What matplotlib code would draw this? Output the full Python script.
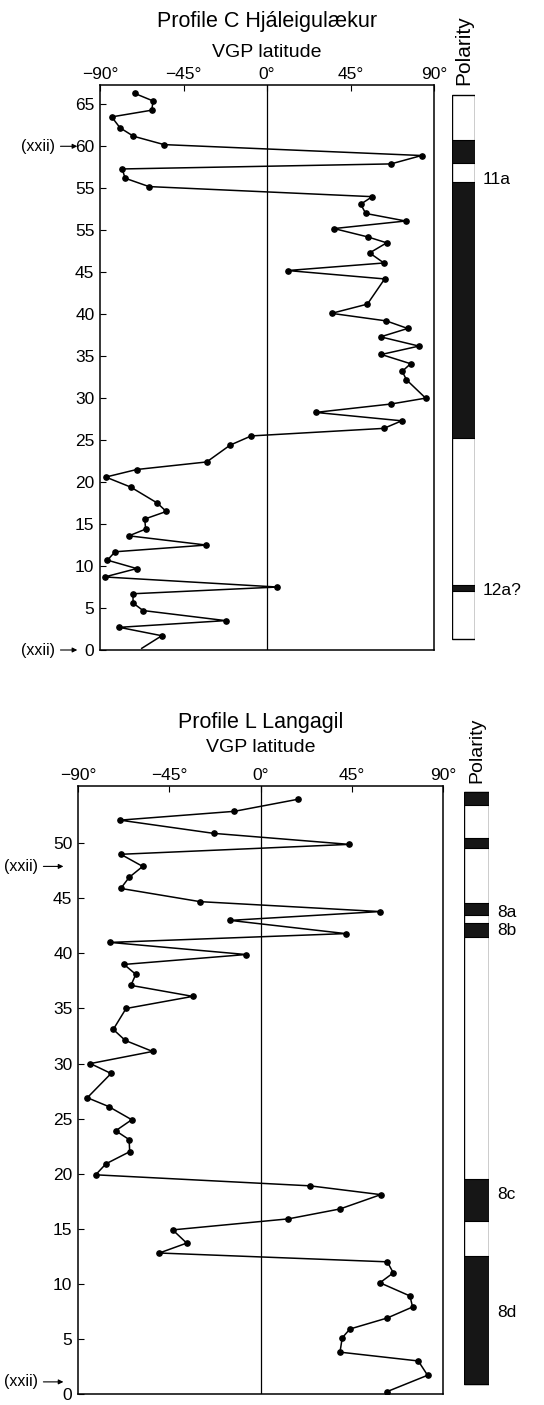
import matplotlib
matplotlib.use("Agg")
import matplotlib.pyplot as plt

plt.rcParams['font.family'] = ['Liberation Sans', 'DejaVu Sans']

# ---------------- Profile C Hjáleigulækur ----------------
c_title = "Profile C Hjáleigulækur"
c_lat = [-71.3, -61.4, -62.1, -83.7, -79.2, -72.0, -55.5, 83.3, 66.8, -78.0,
         -76.5, -63.6, 56.7, 50.5, 53.2, 74.7, 36.1, 54.4, 64.5, 55.3,
         63.0, 11.1, 63.4, 54.1, 34.8, 64.3, 75.8, 61.2, 81.9, 61.6,
         77.4, 72.9, 75.1, 85.5, 66.8, 26.2, 72.6, 63.0, -8.5, -19.9,
         -32.5, -70.2, -86.9, -73.4, -59.1, -54.3, -65.9, -65.4, -74.4, -32.7,
         -81.9, -86.0, -70.2, -87.5, 5.6, -72.2, -72.2, -66.8, -22.3, -79.6,
         -56.7, -67.5]
c_height = [66.3, 65.4, 64.3, 63.5, 62.2, 61.2, 60.2, 58.9, 57.9, 57.3,
            56.2, 55.2, 54.0, 53.1, 52.0, 51.1, 50.2, 49.2, 48.5, 47.3,
            46.1, 45.2, 44.2, 41.2, 40.1, 39.2, 38.3, 37.3, 36.2, 35.2,
            34.1, 33.2, 32.2, 30.0, 29.3, 28.3, 27.3, 26.4, 25.5, 24.4,
            22.4, 21.5, 20.6, 19.4, 17.5, 16.5, 15.6, 14.4, 13.6, 12.5,
            11.7, 10.7, 9.7, 8.7, 7.5, 6.7, 5.6, 4.7, 3.5, 2.7,
            1.7, 0.2]
c_yticks = [0, 5, 10, 15, 20, 25, 30, 35, 40, 45, 50, 55, 60, 65]
c_ylabels = ["0", "5", "10", "15", "20", "25", "30", "35", "40", "45",
             "55", "55", "60", "65"]
c_ylim = 67.3
c_column = (1.3, 66.1)                       # extent of polarity column
c_normal = [(58.0, 60.8), (25.2, 55.7), (7.0, 7.7)]  # black bands
c_chron_lab = ["11a", "12a?"]
c_chron_y = [56.0, 7.1]
c_xxii = [60, 0]

# ---------------- Profile L Langagil ----------------
l_title = "Profile L Langagil"
l_lat = [18.6, -12.9, -69.3, -23.1, 43.8, -68.9, -58.1, -64.8, -68.9, -29.8,
         58.9, -15.0, 42.0, -74.2, -7.1, -67.3, -61.5, -63.9, -33.4, -66.3,
         -72.6, -66.7, -53.2, -83.9, -73.7, -85.4, -74.9, -63.5, -71.4, -64.8,
         -64.5, -76.2, -81.3, 24.4, 59.3, 39.2, 13.7, -43.3, -36.4, -49.9,
         62.5, 65.5, 58.9, 73.7, 75.0, 62.5, 44.1, 40.3, 39.2, 77.8,
         82.4, 62.2]
l_height = [54.0, 52.9, 52.1, 50.9, 49.9, 49.0, 47.9, 46.9, 45.9, 44.7,
            43.8, 43.0, 41.8, 41.0, 39.9, 39.0, 38.1, 37.1, 36.1, 35.0,
            33.1, 32.1, 31.1, 30.0, 29.1, 26.9, 26.1, 24.9, 23.9, 23.1,
            22.0, 20.9, 19.9, 18.9, 18.1, 16.8, 15.9, 14.9, 13.7, 12.8,
            12.0, 11.0, 10.1, 8.9, 7.9, 6.9, 5.9, 5.1, 3.8, 3.0,
            1.7, 0.2]
l_yticks = [0, 5, 10, 15, 20, 25, 30, 35, 40, 45, 50]
l_ylabels = [str(v) for v in l_yticks]
l_ylim = 55.2
l_column = (0.9, 54.7)
l_normal = [(53.5, 54.7), (49.6, 50.5), (43.5, 44.6), (41.5, 42.8),
            (15.7, 19.5), (0.9, 12.5)]
l_chron_lab = ["8a", "8b", "8c", "8d"]
l_chron_y = [43.75, 42.1, 18.1, 7.4]
l_xxii = [47.9, 1.1]

xticks = [-90, -45, 0, 45, 90]
xlabels = ["\u221290\u00b0", "\u221245\u00b0", "0\u00b0", "45\u00b0", "90\u00b0"]

W, H = 544, 1405
fig = plt.figure(figsize=(W / 100, H / 100), dpi=100)


def px_axes(l, t, r, b):
    return fig.add_axes([l / W, 1 - b / H, (r - l) / W, (b - t) / H])


def panel(box, pbox, title, lat, height, yticks, ylabels, ylim, column,
          normal, chron_lab, chron_y, xxii, last_dot, title_dy, pol_dy,
          pol_size, arrow_x, text_x):
    ax = px_axes(*box)
    ax.set_xlim(-90, 90)
    ax.set_ylim(0, ylim)
    ax.axvline(0, color="black", lw=0.9)
    mark = None if last_dot else list(range(len(lat) - 1))
    ax.plot(lat, height, color="black", lw=1.1, marker="o", ms=3.8,
            markevery=mark)
    ax.xaxis.tick_top()
    ax.set_xticks(xticks)
    ax.set_xticklabels(xlabels, fontsize=12.5)
    ax.set_yticks(yticks)
    ax.set_yticklabels(ylabels, fontsize=12.5)
    ax.tick_params(axis="both", direction="in", length=4, width=0.8,
                   top=True, bottom=False)
    ax.tick_params(axis="x", pad=2)
    ax.tick_params(axis="y", pad=4)
    for s in ax.spines.values():
        s.set_linewidth(1.1)
    ax.text(0.5, 1 + title_dy[0], title, transform=ax.transAxes,
            ha="center", va="center", fontsize=15.5)
    ax.text(0.5, 1 + title_dy[1], "VGP latitude", transform=ax.transAxes,
            ha="center", va="center", fontsize=14)
    for y in xxii:
        ax.annotate("(xxii)", xy=(arrow_x, y),
                    xycoords=ax.get_yaxis_transform(),
                    xytext=(text_x, y), textcoords=ax.get_yaxis_transform(),
                    ha="right", va="center", fontsize=11.5,
                    arrowprops=dict(arrowstyle="-|>", lw=0.8, color="black",
                                    mutation_scale=7, shrinkA=2, shrinkB=0))

    # polarity column
    pax = px_axes(pbox[0], box[1], pbox[1], box[3])
    pax.set_xlim(0, 1)
    pax.set_ylim(0, ylim)
    pax.axis("off")
    pax.bar(0.5, column[1] - column[0], bottom=column[0], width=1.0,
            color="white", edgecolor="black", lw=1.0)
    for lo, hi in normal:
        pax.bar(0.5, hi - lo, bottom=lo, width=1.0, color="#161616",
                edgecolor="black", lw=0.8)
    for lab, y in zip(chron_lab, chron_y):
        pax.text(1.35, y, lab, ha="left", va="center", fontsize=12.5)
    pax.text(0.5, 1 + pol_dy, "Polarity", rotation=90,
             transform=pax.transAxes, ha="center", va="center",
             fontsize=pol_size)


panel((100, 85, 434, 650), (452, 475), c_title, c_lat, c_height, c_yticks,
      c_ylabels, c_ylim, c_column, c_normal, c_chron_lab, c_chron_y, c_xxii,
      last_dot=False, title_dy=(0.112, 0.058), pol_dy=0.062, pol_size=15,
      arrow_x=-0.068, text_x=-0.135)

panel((78, 786, 443, 1394), (464, 489), l_title, l_lat, l_height, l_yticks,
      l_ylabels, l_ylim, l_column, l_normal, l_chron_lab, l_chron_y, l_xxii,
      last_dot=True, title_dy=(0.105, 0.0625), pol_dy=0.058, pol_size=14,
      arrow_x=-0.04, text_x=-0.11)

fig.savefig("out.png", dpi=100)
